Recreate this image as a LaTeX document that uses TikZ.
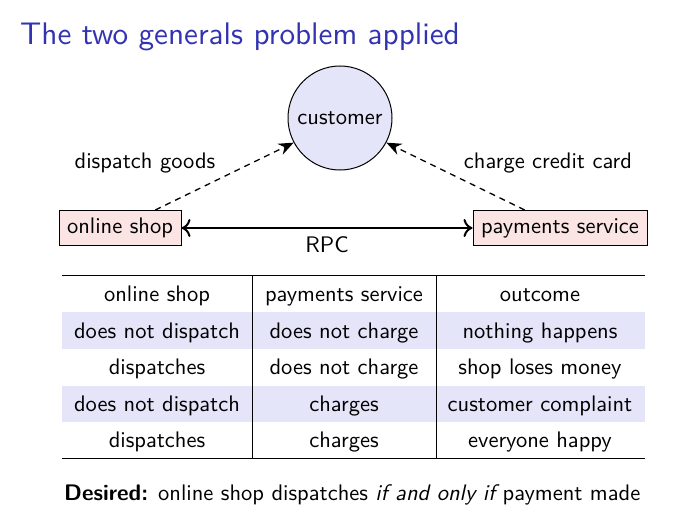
\documentclass[tikz,border=0pt]{standalone}
\usepackage{fontspec}
\setsansfont{lmsans10-regular.otf}[BoldFont=lmsans10-bold.otf,ItalicFont=lmsans10-oblique.otf,BoldItalicFont=lmsans10-boldoblique.otf]
\renewcommand\familydefault{\sfdefault}
\usetikzlibrary{arrows.meta}
\definecolor{titleblue}{rgb}{0.2,0.2,0.7}
\definecolor{custfill}{RGB}{229,229,250}
\definecolor{boxfill}{RGB}{250,228,228}
\definecolor{rowfill}{RGB}{229,229,250}
\begin{document}
\begin{tikzpicture}[x=1pt,y=-1pt,
  every node/.style={font=\sffamily\fontsize{22.5}{27}\selectfont},
  titletext/.style={anchor=base west,inner sep=0,text=titleblue,font=\sffamily\fontsize{31.2}{36}\selectfont},
  party/.style={draw,line width=1pt,fill=boxfill,minimum height=35pt,inner sep=0},
  custnode/.style={circle,draw,line width=1pt,fill=custfill,minimum size=104pt,inner sep=0},
  msg/.style={dash pattern=on 6pt off 5pt,line width=1.3pt,-{Stealth[length=15pt,width=12pt]}},
  rpc/.style={line width=2pt,{To[length=9pt,width=18pt]}-{To[length=9pt,width=18pt]}},
  cell/.style={anchor=base,inner sep=0},
  rule/.style={line width=1pt}]
\useasboundingbox (0,0) rectangle (697,519);
\node[titletext] (title) at (20,45) {The two generals problem applied};
\node[custnode] (cust) at (340,118) {customer};
\node[party,minimum width=122pt] (shop) at (120,228) {online shop};
\node[party,minimum width=174pt] (pay) at (560,228) {payments service};
\draw[rpc] (shop) -- (pay) node[midway,anchor=north,inner sep=0,yshift=-8pt] (rpclabel) {RPC};
\draw[msg] (shop.27) -- (cust.208);
\draw[msg] (pay.153) -- (cust.332);
\node (lbl1) at (145,163) {dispatch goods};
\node (lbl2) at (548,163) {charge credit card};
% table
\fill[rowfill] (62,312) rectangle (645,349);
\fill[rowfill] (62,386) rectangle (645,422);
\draw[rule] (62,275) -- (645,275);
\draw[rule] (62,458) -- (645,458);
\draw[rule] (252,275) -- (252,458);
\draw[rule] (436,275) -- (436,458);
\node[cell] (h1) at (157,301) {online shop};
\node[cell] (h2) at (344,301) {payments service};
\node[cell] (h3) at (540,301) {outcome};
\node[cell] (a1) at (157,338) {does not dispatch};
\node[cell] (a2) at (344,338) {does not charge};
\node[cell] (a3) at (540,338) {nothing happens};
\node[cell] (b1) at (157,374) {dispatches};
\node[cell] (b2) at (344,374) {does not charge};
\node[cell] (b3) at (540,374) {shop loses money};
\node[cell] (c1) at (157,411) {does not dispatch};
\node[cell] (c2) at (344,411) {charges};
\node[cell] (c3) at (540,411) {customer complaint};
\node[cell] (d1) at (157,447) {dispatches};
\node[cell] (d2) at (344,447) {charges};
\node[cell] (d3) at (540,447) {everyone happy};
\node[anchor=base west,inner sep=0] (desired) at (64,500) {\textbf{Desired:} online shop dispatches {\itshape if and only if} payment made};
\end{tikzpicture}
\end{document}
